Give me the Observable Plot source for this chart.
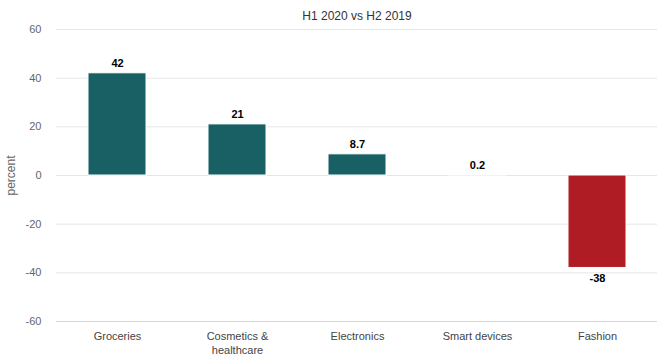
<!DOCTYPE html>
<html>
<head>
<meta charset="utf-8">
<script src="https://cdn.jsdelivr.net/npm/d3@7"></script>
<script src="https://cdn.jsdelivr.net/npm/@observablehq/plot@0.6"></script>
<style>
  html, body { margin: 0; padding: 0; background: #fff; }
  #chart svg { display: block; font-family: "Liberation Sans", Arial, sans-serif; }
</style>
</head>
<body>
<div id="chart"></div>
<script>
const title = "H1 2020 vs H2 2019";
const categories = ["Groceries", "Cosmetics & healthcare", "Electronics", "Smart devices", "Fashion"];
const tickLabels = ["Groceries", "Cosmetics &\nhealthcare", "Electronics", "Smart devices", "Fashion"];
const values = [42, 21, 8.7, 0.2, -38];
const valueLabels = ["42", "21", "8.7", "0.2", "-38"];
const yTicks = [-60, -40, -20, 0, 20, 40, 60];
const yLabel = "percent";

const data = categories.map((c, i) => ({ category: c, value: values[i], label: valueLabels[i] }));
const tickMap = new Map(categories.map((c, i) => [c, tickLabels[i]]));

const chart = Plot.plot({
  width: 670,
  height: 357,
  marginLeft: 56,
  marginRight: 13,
  marginTop: 29,
  marginBottom: 36,
  style: { fontFamily: "'Liberation Sans', Arial, sans-serif", fontSize: "11px", background: "#fff" },
  x: { domain: categories, paddingInner: 0.52, paddingOuter: 0.26 },
  y: { domain: [-60, 60] },
  marks: [
    Plot.gridY(yTicks, { stroke: "#e6e6e6", strokeOpacity: 1 }),
    Plot.ruleY([-60], { stroke: "#ccd6eb", strokeOpacity: 1 }),
    Plot.barY(data, {
      x: "category",
      y: "value",
      fill: d => d.value < 0 ? "#b01c24" : "#186063",
      stroke: "#fff",
      strokeWidth: 1
    }),
    Plot.text(data.filter(d => d.value >= 0), {
      x: "category", y: "value", text: "label",
      dy: -10, fontWeight: "bold", fontSize: 11, fill: "#000",
      stroke: "#fff", strokeWidth: 2
    }),
    Plot.text(data.filter(d => d.value < 0), {
      x: "category", y: "value", text: "label",
      dy: 11, fontWeight: "bold", fontSize: 11, fill: "#000",
      stroke: "#fff", strokeWidth: 2
    }),
    Plot.axisY(yTicks, {
      tickSize: 0, tickPadding: 15, fill: "#666", fontSize: 11,
      label: null, tickFormat: d => String(d)
    }),
    Plot.axisX({
      tickSize: 0, tickPadding: 9, fill: "#444", fontSize: 11, label: null,
      tickFormat: d => tickMap.get(d), lineHeight: 1.25
    }),
    Plot.text([yLabel], {
      frameAnchor: "left", textAnchor: "middle", dx: -45, rotate: -90, fill: "#666", fontSize: 12
    }),
    Plot.text([title], {
      frameAnchor: "top", dy: -18, fill: "#333", fontSize: 12
    })
  ]
});
document.getElementById("chart").appendChild(chart);
</script>
</body>
</html>
